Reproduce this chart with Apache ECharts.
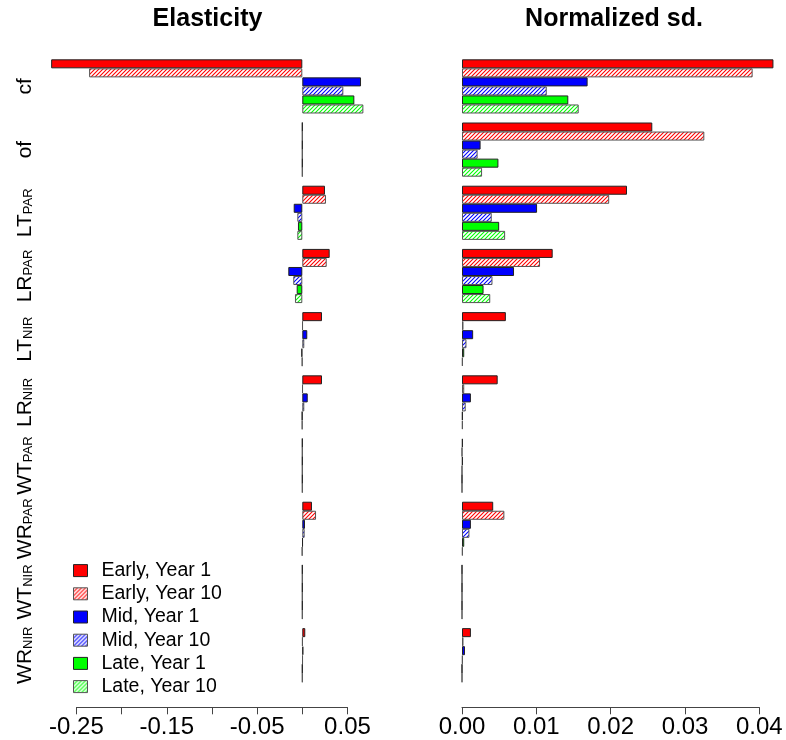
<!DOCTYPE html>
<html>
<head>
<meta charset="utf-8">
<script src="https://cdn.jsdelivr.net/npm/echarts@6/dist/echarts.min.js"></script>
<style>
  html, body { margin: 0; padding: 0; background: #ffffff; }
  #chart { width: 786px; height: 740px; }
</style>
</head>
<body>
<div id="chart"></div>
<script>
// Parameter names (main symbol + subscript), listed top to bottom
const catMain = ['cf', 'of', 'LT', 'LR', 'LT', 'LR', 'WT', 'WR', 'WT', 'WR'];
const catSub  = ['', '', 'PAR', 'PAR', 'NIR', 'NIR', 'PAR', 'PAR', 'NIR', 'NIR'];

const seriesNames = ['Early, Year 1', 'Early, Year 10', 'Mid, Year 1', 'Mid, Year 10', 'Late, Year 1', 'Late, Year 10'];

// Elasticity
const elastEarlyY1  = [-0.278, 0, 0.0251, 0.0303, 0.0218, 0.0218, 0, 0.0107, 0, 0.0033];
const elastEarlyY10 = [-0.236, 0, 0.0262, 0.0270, 0.0005, 0.0005, 0, 0.0152, 0, 0.0003];
const elastMidY1    = [0.0650, 0, -0.0095, -0.0155, 0.0055, 0.0060, 0, 0.0030, 0, 0.0011];
const elastMidY10   = [0.0454, 0, -0.0055, -0.0100, 0.0022, 0.0022, 0, 0.0026, 0, 0.0005];
const elastLateY1   = [0.0576, 0, -0.0048, -0.0062, -0.0010, -0.0003, 0, 0.0005, 0, 0];
const elastLateY10  = [0.0676, 0, -0.0055, -0.0081, -0.0003, -0.0003, 0, -0.0003, 0, 0];

// Normalized sd.
const sdEarlyY1  = [0.0419, 0.0256, 0.0222, 0.0122, 0.0059, 0.0048, 0.0001, 0.0042, 0, 0.0012];
const sdEarlyY10 = [0.0391, 0.0326, 0.0198, 0.0105, 0.0002, 0.0003, 0, 0.0057, 0, 0.0002];
const sdMidY1    = [0.0169, 0.0025, 0.0101, 0.0070, 0.0015, 0.0012, 0.0001, 0.0012, 0, 0.0004];
const sdMidY10   = [0.0114, 0.0021, 0.0040, 0.0041, 0.0006, 0.0005, 0, 0.0010, 0, 0.0001];
const sdLateY1   = [0.0143, 0.0049, 0.0050, 0.0029, 0.0003, 0.0001, 0, 0.0003, 0, 0];
const sdLateY10  = [0.0157, 0.0027, 0.0058, 0.0038, 0.0001, 0.0001, 0, 0.0001, 0, 0];

// Axis ticks
const elastTicks = [-0.25, -0.2, -0.15, -0.1, -0.05, 0, 0.05];
const elastTickLabels = [-0.25, -0.15, -0.05, 0.05];
const sdTicks = [0, 0.01, 0.02, 0.03, 0.04];

const FONT = 'Liberation Sans, Arial, Helvetica, sans-serif';
const baseColors = ['#ff0000', '#ff0000', '#0000ff', '#0000ff', '#00ff00', '#00ff00'];
const hatched = [false, true, false, true, false, true];

// Diagonal hatch fill (lines rising left to right) on white
function hatchFill(color) {
  const s = 4;
  const c = document.createElement('canvas');
  c.width = s; c.height = s;
  const g = c.getContext('2d');
  g.fillStyle = '#ffffff';
  g.fillRect(0, 0, s, s);
  g.strokeStyle = color;
  g.lineWidth = 1.1;
  g.beginPath();
  g.moveTo(0, s); g.lineTo(s, 0);
  g.moveTo(-1, 1); g.lineTo(1, -1);
  g.moveTo(s - 1, s + 1); g.lineTo(s + 1, s - 1);
  g.stroke();
  return { image: c, repeat: 'repeat' };
}

// Horizontal scales: pixel position of zero and pixels per unit for each panel
const panels = [
  { zero: 302.3, ppu: 903.4, min: -0.28, max: 0.07, axMin: -0.25, axMax: 0.05,
    data: [elastEarlyY1, elastEarlyY10, elastMidY1, elastMidY10, elastLateY1, elastLateY10],
    ticks: elastTicks, labels: elastTickLabels },
  { zero: 462.0, ppu: 7433, min: 0, max: 0.043, axMin: 0, axMax: 0.04,
    data: [sdEarlyY1, sdEarlyY10, sdMidY1, sdMidY10, sdLateY1, sdLateY10],
    ticks: sdTicks, labels: sdTicks }
];

const plotTop = 54.8, plotHeight = 632, axisY = 707.3;

const grids = [], xAxes = [], yAxes = [], series = [];
const categories = catMain.map((m, i) => m + catSub[i]);

panels.forEach((p, pi) => {
  grids.push({
    left: p.zero + p.min * p.ppu, width: (p.max - p.min) * p.ppu,
    top: plotTop, height: plotHeight, outerBoundsMode: 'none', containLabel: false
  });
  xAxes.push({
    gridIndex: pi, type: 'value', min: p.min, max: p.max,
    axisLine: { show: false }, axisTick: { show: false }, axisLabel: { show: false },
    splitLine: { show: false }
  });
  yAxes.push({
    gridIndex: pi, type: 'category', data: categories, inverse: true,
    axisLine: { show: false }, axisTick: { show: false }, splitLine: { show: false },
    axisLabel: {
      show: pi === 0, interval: 0, rotate: 90, margin: 14, color: '#000',
      formatter: (v, i) => catSub[i] ? `{m|${catMain[i]}}{s|${catSub[i]}}` : `{m|${catMain[i]}}`,
      rich: {
        m: { fontFamily: FONT, fontSize: 21, lineHeight: 21, verticalAlign: 'bottom', color: '#000' },
        s: { fontFamily: FONT, fontSize: 13, lineHeight: 12, verticalAlign: 'bottom', color: '#000' }
      }
    }
  });
  p.data.forEach((vals, si) => {
    series.push({
      type: 'bar', name: seriesNames[si], xAxisIndex: pi, yAxisIndex: pi,
      data: vals, barGap: '0%', barCategoryGap: '14.2857%',
      itemStyle: {
        color: hatched[si] ? hatchFill(baseColors[si]) : baseColors[si],
        borderColor: hatched[si] ? '#555555' : '#222222', borderWidth: 1
      },
      emphasis: { disabled: true }
    });
  });
});

// Separate thin grids carrying the visible tick axes below each panel
panels.forEach((p, pi) => {
  const gi = grids.length;
  grids.push({
    left: p.zero + p.axMin * p.ppu, width: (p.axMax - p.axMin) * p.ppu,
    top: axisY - 1, height: 1, outerBoundsMode: 'none', containLabel: false
  });
  xAxes.push({
    gridIndex: gi, type: 'value', min: p.axMin, max: p.axMax, position: 'bottom',
    axisLine: { show: true, lineStyle: { color: '#444', width: 1 } },
    axisTick: { show: true, length: 7, customValues: p.ticks, lineStyle: { color: '#444', width: 1 } },
    axisLabel: {
      show: true, customValues: p.labels, margin: 8, color: '#000',
      fontFamily: FONT, fontSize: 24,
      formatter: v => v.toFixed(2)
    },
    splitLine: { show: false }
  });
  yAxes.push({ gridIndex: gi, type: 'value', show: false });
});

const chart = echarts.init(document.getElementById('chart'), null, { renderer: 'canvas' });
chart.setOption({
  animation: false,
  backgroundColor: '#ffffff',
  textStyle: { fontFamily: FONT },
  grid: grids,
  xAxis: xAxes,
  yAxis: yAxes,
  series: series,
  legend: {
    data: seriesNames, orient: 'vertical', left: 68, top: 554,
    icon: 'rect', itemWidth: 14, itemHeight: 12, itemGap: 0,
    selectedMode: false,
    itemStyle: { borderWidth: 1 },
    textStyle: { fontFamily: FONT, fontSize: 19.5, lineHeight: 23.2, color: '#000', padding: [0, 0, 0, 9] }
  },
  graphic: [
    { type: 'text', x: 207.5, y: 19, style: { text: 'Elasticity', fontFamily: FONT, fontSize: 25, fontWeight: 'bold', fill: '#000', align: 'center', verticalAlign: 'middle' } },
    { type: 'text', x: 614, y: 19, style: { text: 'Normalized sd.', fontFamily: FONT, fontSize: 25, fontWeight: 'bold', fill: '#000', align: 'center', verticalAlign: 'middle' } }
  ]
});
</script>
</body>
</html>
